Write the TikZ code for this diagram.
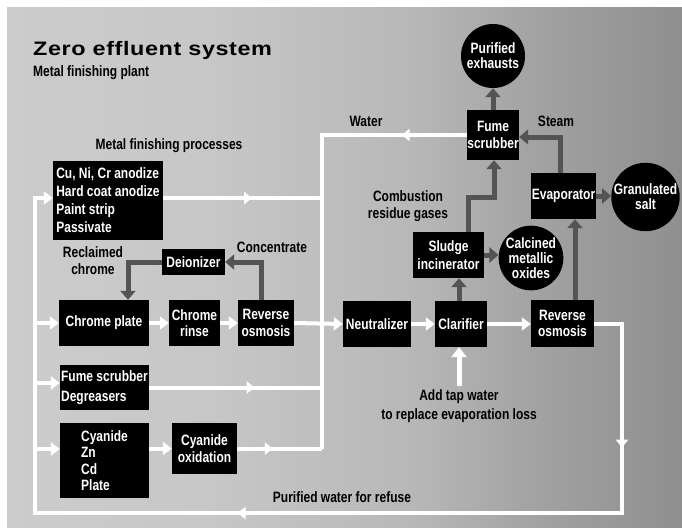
\documentclass[tikz,border=0pt]{standalone}
\usepackage{fontspec}
\setmainfont{Liberation Sans}
\newfontfamily\condf[FakeStretch=0.8]{Liberation Sans}
\newfontfamily\titlef[FakeStretch=1.2,LetterSpace=3]{Liberation Sans}
\usetikzlibrary{arrows.meta,decorations.markings}
\definecolor{bgA}{gray}{0.80}
\definecolor{bgAA}{gray}{0.78}
\definecolor{bgB}{gray}{0.72}
\definecolor{bgC}{gray}{0.63}
\definecolor{bgD}{gray}{0.56}
\definecolor{dk}{gray}{0.33}
\pgfdeclarehorizontalshading{bgshade}{100bp}{color(0bp)=(bgA); color(25bp)=(bgA); color(40bp)=(bgAA); color(55bp)=(bgB); color(65bp)=(bgC); color(75bp)=(bgD); color(100bp)=(bgD)}
\pgfdeclarelayer{bgl}
\pgfdeclarelayer{conn}
\pgfsetlayers{bgl,conn,main}
\tikzset{
  cfont/.style={font=\condf\bfseries\fontsize{15}{16.5}\selectfont},
  box/.style={cfont, fill=black, text=white, inner sep=0pt, align=center},
  circ/.style={circle, fill=black, text=white, inner sep=0pt, minimum size=64pt, align=center, font=\condf\bfseries\fontsize{15}{15}\selectfont},
  lbl/.style={cfont, text=black, inner sep=0pt, align=center},
  wline/.style={draw=white, color=white, line width=4pt},
  warr/.style={wline, -{Triangle[width=13pt,length=9pt]}},
  darr/.style={draw=dk, color=dk, line width=5pt, -{Triangle[width=15pt,length=9pt]}},
  midarr/.style={postaction={decorate}, decoration={markings, mark=at position #1 with {\arrow{Triangle[width=12pt,length=8pt]}}}}
}
\begin{document}
\begin{tikzpicture}[x=1pt,y=-1pt]
\useasboundingbox (0,0) rectangle (682,527);
\begin{pgfonlayer}{bgl}
\fill[white] (0,0) rectangle (682,527);
\shade[shading=bgshade] (7,8) rectangle (682,527);
\end{pgfonlayer}

% titles
\node[anchor=base west, inner sep=0pt, font=\titlef\bfseries\fontsize{19.5}{22}\selectfont] (title) at (33,55.5) {Zero effluent system};
\node[lbl, anchor=base west] (sub) at (33,76) {Metal finishing plant};

% boxes
\node[box, align=left, minimum width=110pt, minimum height=79pt, font=\condf\bfseries\fontsize{15}{18}\selectfont] (proc) at (108,200.5) {Cu, Ni, Cr anodize\\Hard coat anodize\\Paint strip\\Passivate};
\node[box, minimum width=63pt, minimum height=26pt] (deion) at (193.5,262) {Deionizer};
\node[box, minimum width=90pt, minimum height=46pt] (cplate) at (104,323) {Chrome plate};
\node[box, minimum width=51pt, minimum height=46pt] (crinse) at (194.5,323) {Chrome\\rinse};
\node[box, minimum width=56pt, minimum height=46pt] (ro1) at (266,323) {Reverse\\osmosis};
\node[box, align=left, minimum width=89pt, minimum height=45pt, font=\condf\bfseries\fontsize{15}{20}\selectfont] (fsdeg) at (104.5,387.5) {Fume scrubber\\Degreasers};
\node[box, align=left, minimum width=89pt, minimum height=75pt] (cyan) at (104.5,460.5) {Cyanide\\Zn\\Cd\\Plate};
\node[box, minimum width=65pt, minimum height=51pt] (cyox) at (204.5,448.5) {Cyanide\\oxidation};
\node[box, minimum width=68pt, minimum height=46pt] (neut) at (377,324) {Neutralizer};
\node[box, minimum width=52pt, minimum height=46pt] (clar) at (461,324) {Clarifier};
\node[box, minimum width=63pt, minimum height=47pt] (ro2) at (562.5,323.5) {Reverse\\osmosis};
\node[box, minimum width=71pt, minimum height=46pt, font=\condf\bfseries\fontsize{15}{17.5}\selectfont] (sludge) at (448.5,255) {Sludge\\incinerator};
\node[box, minimum width=65pt, minimum height=46pt] (evap) at (563.5,196) {Evaporator};
\node[box, minimum width=52pt, minimum height=50pt] (fume) at (493,135) {Fume\\scrubber};

% circles
\node[circ] (exh) at (493,56) {Purified\\exhausts};
\node[circ] (calc) at (531,258) {Calcined\\metallic\\oxides};
\node[circ] (salt) at (645.5,197) {Granulated\\salt};

% labels
\node[lbl] (lproc) at (169,146) {Metal finishing processes};
\node[lbl, font=\condf\bfseries\fontsize{15}{17}\selectfont] (lrecl) at (93,261) {Reclaimed\\chrome};
\node[lbl] (lconc) at (272,247) {Concentrate};
\node[lbl] (lwater) at (366,121) {Water};
\node[lbl] (lsteam) at (556,121) {Steam};
\node[lbl, font=\condf\bfseries\fontsize{15}{17}\selectfont] (lcomb) at (408,206) {Combustion\\residue gases};
\node[lbl, font=\condf\bfseries\fontsize{15}{18.5}\selectfont] (ltap) at (459,406) {Add tap water\\to replace evaporation loss};
\node[lbl] (lpur) at (342,497) {Purified water for refuse};

% coordinates
\coordinate (Lb) at (35,513);
\coordinate (Rb) at (622,513);
\coordinate (Lt) at (35,198);
\coordinate (V1) at (322,198);
\coordinate (Vt) at (322,135);
\coordinate (Vb) at (322,449);
\coordinate (inF) at (35,383);
\coordinate (inC) at (35,449);
\coordinate (tap) at (459,386);
\coordinate (dA) at (128,262);
\coordinate (dB) at (261,262);
\coordinate (dC) at (459,300);
\coordinate (dE1) at (468,197);
\coordinate (dE2) at (494,197);
\coordinate (dG) at (575,260);
\coordinate (dI) at (560,137);

\begin{pgfonlayer}{conn}
% white loop
\draw[warr] (ro2.east) -- (ro2.east -| Rb) -- (Rb) -- (Lb) -- (Lt) -- (Lt -| proc.west);
\draw[wline, midarr=0.655] (ro2.east -| Rb) -- (Rb);
\draw[wline, midarr=0.655] (Rb) -- (Lb);
\draw[warr] (Lb |- cplate.west) -- (cplate.west);
\draw[warr] (inF) -- (inF -| fsdeg.west);
\draw[warr] (inC) -- (inC -| cyan.west);
% collector
\draw[wline] (cyox.east -| Vb) -- (Vt) -- (fume.west);
\draw[wline, midarr=0.45] (fume.west) -- (Vt);
\draw[wline, midarr=0.56] (Lt -| proc.east) -- (V1);
\draw[wline, midarr=0.61] (fsdeg.east) -- (fsdeg.east -| Vt);
\draw[wline, midarr=0.42] (cyox.east) -- (cyox.east -| Vb);
\draw[warr] (cyan.east |- cyox.west) -- (cyox.west);
% main line
\draw[warr] (cplate.east) -- (crinse.west);
\draw[warr] (crinse.east) -- (ro1.west);
\draw[warr] (ro1.east) -- (neut.west);
\draw[warr] (neut.east) -- (clar.west);
\draw[warr] (clar.east) -- (clar.east -| ro2.west);
\draw[warr, line width=5pt, -{Triangle[width=15pt,length=10pt]}] (tap) -- (tap |- clar.south);
% dark arrows
\draw[darr] (deion.west) -- (dA) -- (dA |- cplate.north);
\draw[darr] (dB |- ro1.north) -- (dB) -- (deion.east);
\draw[darr] (dC |- clar.north) -- (dC |- sludge.south);
\draw[darr] (sludge.east) -- (sludge.east -| calc.west);
\draw[darr] (dE1 |- sludge.north) -- (dE1) -- (dE2) -- (dE2 |- fume.south);
\draw[darr] (fume.north) -- (exh.south);
\draw[darr] (dG |- ro2.north) -- (dG |- evap.south);
\draw[darr] (evap.east) -- (evap.east -| salt.west);
\draw[darr] (dI |- evap.north) -- (dI) -- (dI -| fume.east);
\end{pgfonlayer}
\end{tikzpicture}
\end{document}
